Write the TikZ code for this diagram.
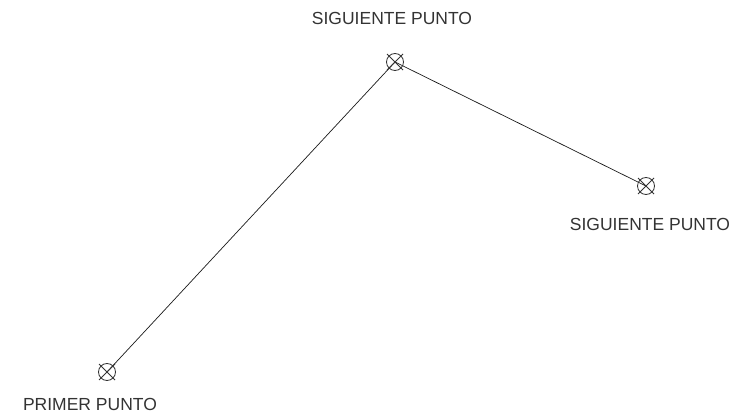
\documentclass[tikz,border=0pt]{standalone}
\usepackage{fontspec}
\setmainfont{Liberation Sans}
\usepackage{xcolor}
\usetikzlibrary{calc,positioning}
\definecolor{linec}{HTML}{1A1A1A}
\definecolor{markc}{HTML}{333333}
\tikzset{
  seg/.style={linec,line width=0.7pt},
  ptmark/.style={markc,line width=0.8pt},
  lbl/.style={font=\fontsize{17.5}{20}\selectfont,text=markc,inner sep=0pt}
}
\begin{document}
\begin{tikzpicture}[x=1pt,y=-1pt]
\useasboundingbox (0,0) rectangle (742,414);
\coordinate (pA) at (107,372);
\coordinate (pB) at (395,62);
\coordinate (pC) at (646,186);
\draw[seg] (pA) -- (pB) -- (pC);
\foreach \p in {pA,pB,pC}{
  \draw[ptmark] (\p) circle (8.5);
  \draw[ptmark] ($(\p)+(-8,-8)$) -- ($(\p)+(8,8)$);
  \draw[ptmark] ($(\p)+(-8,8)$) -- ($(\p)+(8,-8)$);
}
\node[lbl] (tB) at (392,18) {SIGUIENTE PUNTO};
\node[lbl] (tC) at (650,224) {SIGUIENTE PUNTO};
\node[lbl] (tA) at (90,404) {PRIMER PUNTO};
\end{tikzpicture}
\end{document}
